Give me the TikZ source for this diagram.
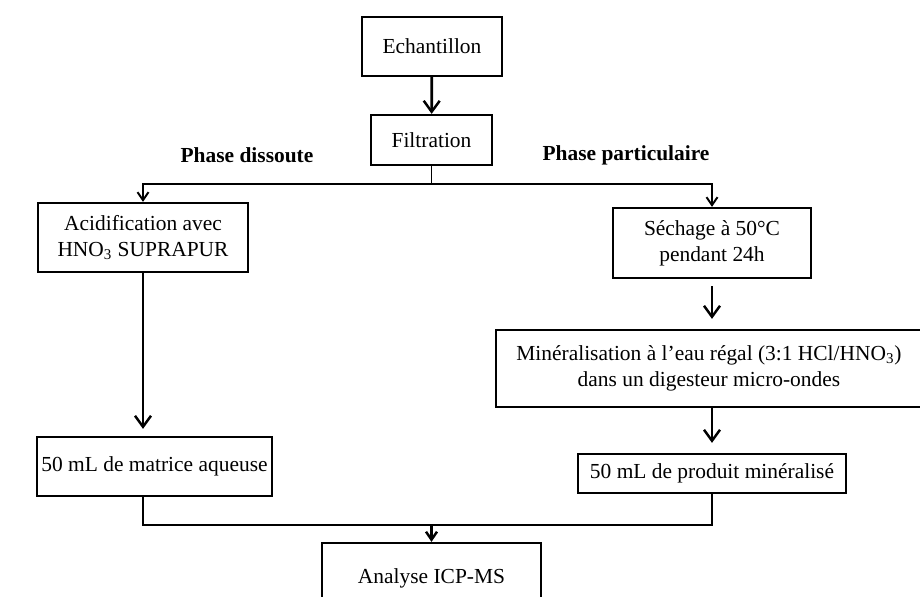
\documentclass[tikz,border=0pt,12pt]{standalone}
\usepackage{fontspec}
\setmainfont{Liberation Serif}
\usetikzlibrary{positioning,arrows.meta}

\tikzset{
  box/.style={draw,line width=1.3pt,align=center,inner sep=2pt,font=\fontsize{12.2}{14.8}\selectfont},
  bigtip/.style={-{Straight Barb[length=0.22cm,width=0.32cm,line width=1.4pt]},line width=1.6pt},
  smalltip/.style={-{Straight Barb[length=0.16cm,width=0.22cm]},line width=1.1pt},
  phase/.style={font=\fontsize{12.2}{14}\selectfont\bfseries}
}

\begin{document}
\begin{tikzpicture}[x=0.02cm,y=-0.02cm]
\clip (0,0) rectangle (920,597);

\node[box,minimum width=2.8cm,minimum height=1.18cm] (ech) at (432,46.5) {Echantillon};
\node[box,minimum width=2.42cm,minimum height=1.0cm] (filt) at (431.5,140) {Filtration};

\node[phase] (pdiss) at (247,155) {Phase dissoute};
\node[phase] (ppart) at (626,155) {Phase particulaire};

\node[box,minimum width=4.2cm,minimum height=1.38cm] (acid) at (143,237.5) {Acidification avec\\HNO\textsubscript{3} SUPRAPUR};
\node[box,minimum width=3.96cm,minimum height=1.4cm] (sech) at (712,243) {Séchage à 50°C\\pendant 24h};
\node[box,minimum width=8.8cm,minimum height=1.54cm] (mine) at (716,368.5) {\hspace*{-8pt}Minéralisation à l'eau régal (3:1 HCl/HNO\textsubscript{3})\\\hspace*{-8pt}dans un digesteur micro-ondes};
\node[box,minimum width=4.7cm,minimum height=1.18cm] (matr) at (154.5,466.5) {50 mL de matrice aqueuse};
\node[box,minimum width=5.36cm,minimum height=0.78cm] (prod) at (712,473.5) {50 mL de produit minéralisé};
\node[box,minimum width=4.38cm,minimum height=1.4cm] (ana) at (431.5,578) {Analyse ICP-MS};

\coordinate (split) at (431.5,184);
\coordinate (join) at (431.5,525);

% top
\draw[bigtip] (ech) -- (filt);
\draw[line width=1.1pt] (filt.south) -- (split);
\draw[smalltip] (split) -| (acid.north);
\draw[smalltip] (split) -| (sech.north);

% right branch
\draw[bigtip,shorten <=0.14cm,shorten >=0.2cm] (sech.south) -- (sech.south |- mine.north);
\draw[bigtip,shorten >=0.2cm] (prod.north |- mine.south) -- (prod.north);

% left branch
\draw[bigtip,shorten >=0.14cm] (acid.south) -- (acid.south |- matr.north);

% bottom
\draw[line width=1.3pt] (acid.south |- matr.south) |- (prod.south |- join) -- (prod.south);
\draw[bigtip,-{Straight Barb[length=0.16cm,width=0.22cm,line width=1.4pt]}] (join) -- (ana.north);

\end{tikzpicture}
\end{document}
